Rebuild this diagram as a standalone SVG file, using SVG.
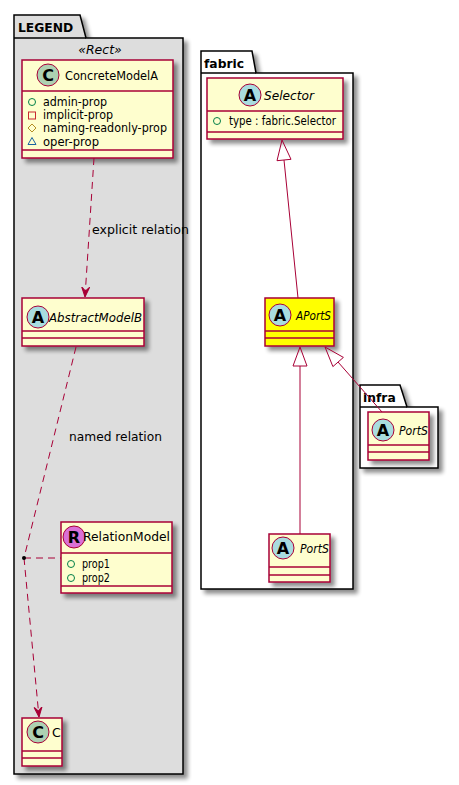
<svg xmlns="http://www.w3.org/2000/svg" width="459" height="785" viewBox="0 0 459 785">
<defs>
<filter id="sh" x="-20%" y="-20%" width="150%" height="150%">
<feGaussianBlur in="SourceAlpha" stdDeviation="2"/>
<feOffset dx="4" dy="4" result="o"/>
<feComponentTransfer><feFuncA type="linear" slope="0.45"/></feComponentTransfer>
<feMerge><feMergeNode/><feMergeNode in="SourceGraphic"/></feMerge>
</filter>
<marker id="ah" viewBox="0 0 10 10" refX="10" refY="5" markerWidth="10" markerHeight="10" markerUnits="userSpaceOnUse" orient="auto">
<path d="M10,5 L0,1 L4,5 L0,9 Z" fill="#A80036" stroke="#A80036" stroke-width="1"/>
</marker>
</defs>
<style>
.pkg{stroke:#000;stroke-width:1.5}
.box{fill:#FEFECE;stroke:#A80036;stroke-width:1.5}
.sep{stroke:#A80036;stroke-width:1.5}
.ci{stroke:#A80036;stroke-width:1}
.lt{font-family:"DejaVu Sans",sans-serif;font-weight:bold;font-size:16px;text-anchor:middle}
.nm{font-family:"DejaVu Sans",sans-serif;font-size:12.5px;fill:#000}
.it{font-style:italic}
.at{font-family:"DejaVu Sans",sans-serif;font-size:11.5px;fill:#000}
.lb{font-family:"DejaVu Sans",sans-serif;font-size:12.5px;fill:#000}
.pt{font-family:"DejaVu Sans",sans-serif;font-size:12.3px;font-weight:bold;fill:#000}
.rel{fill:none;stroke:#A80036;stroke-width:1}
.dash{stroke-dasharray:7,5}
</style>

<g id="pkg-legend">
<path class="pkg" d="M14,15 L80,15 L86,38 L183,38 L183,774 L14,774 Z" fill="#DDDDDD" filter="url(#sh)"/>
<line class="pkg" x1="14" y1="38" x2="86" y2="38"/>
<text class="pt" x="18" y="32">LEGEND</text>
<text class="lb it" x="100" y="54" text-anchor="middle" font-size="12">«Rect»</text>
</g>

<g id="pkg-fabric">
<path class="pkg" d="M201,51 L252,51 L256,73 L353,73 L353,589 L201,589 Z" fill="#FFFFFF" filter="url(#sh)"/>
<line class="pkg" x1="201" y1="73" x2="256" y2="73"/>
<text class="pt" x="204" y="68">fabric</text>
</g>

<g id="pkg-infra">
<path class="pkg" d="M360,385 L400,385 L407,407 L438,407 L438,468 L360,468 Z" fill="#FFFFFF" filter="url(#sh)"/>
<line class="pkg" x1="360" y1="407" x2="407" y2="407"/>
<text class="pt" x="363" y="402">infra</text>
</g>

<g id="ConcreteModelA">
<rect class="box" x="22" y="60" width="151" height="98" filter="url(#sh)"/>
<line class="sep" x1="22" y1="91" x2="173" y2="91"/>
<line class="sep" x1="22" y1="150" x2="173" y2="150"/>
<circle class="ci" cx="48" cy="75" r="11" fill="#ADD1B2"/>
<text class="lt" x="48" y="81">C</text>
<text class="nm" x="65" y="80" textLength="93" lengthAdjust="spacingAndGlyphs">ConcreteModelA</text>
<circle cx="32" cy="102" r="3.5" fill="none" stroke="#038048" stroke-width="1"/>
<text class="at" x="43" y="106" textLength="64" lengthAdjust="spacingAndGlyphs">admin-prop</text>
<rect x="28.5" y="112" width="7" height="7" fill="none" stroke="#C82930" stroke-width="1"/>
<text class="at" x="43" y="119" textLength="70" lengthAdjust="spacingAndGlyphs">implicit-prop</text>
<path d="M32,124 L36,128 L32,132 L28,128 Z" fill="none" stroke="#B38D22" stroke-width="1"/>
<text class="at" x="43" y="132" textLength="124" lengthAdjust="spacingAndGlyphs">naming-readonly-prop</text>
<path d="M32,137.5 L36,144.5 L28,144.5 Z" fill="none" stroke="#1963A0" stroke-width="1"/>
<text class="at" x="43" y="146" textLength="56" lengthAdjust="spacingAndGlyphs">oper-prop</text>
</g>

<g id="AbstractModelB">
<rect class="box" x="22" y="298" width="122" height="48" filter="url(#sh)"/>
<line class="sep" x1="22" y1="331" x2="144" y2="331"/>
<line class="sep" x1="22" y1="338" x2="144" y2="338"/>
<circle class="ci" cx="38" cy="317" r="11" fill="#A9DCDF"/>
<text class="lt" x="38" y="323">A</text>
<text class="nm it" x="49" y="322" textLength="93" lengthAdjust="spacingAndGlyphs">AbstractModelB</text>
</g>

<g id="RelationModel">
<rect class="box" x="61" y="522" width="111" height="71" filter="url(#sh)"/>
<line class="sep" x1="61" y1="553" x2="172" y2="553"/>
<line class="sep" x1="61" y1="586" x2="172" y2="586"/>
<circle class="ci" cx="74" cy="537" r="11" fill="#DA70D6"/>
<text class="lt" x="74" y="543">R</text>
<text class="nm" x="83" y="541" textLength="87" lengthAdjust="spacingAndGlyphs">RelationModel</text>
<circle cx="71" cy="564" r="3.5" fill="none" stroke="#038048" stroke-width="1"/>
<text class="at" x="82" y="568" textLength="28" lengthAdjust="spacingAndGlyphs">prop1</text>
<circle cx="71" cy="578" r="3.5" fill="none" stroke="#038048" stroke-width="1"/>
<text class="at" x="82" y="582" textLength="28" lengthAdjust="spacingAndGlyphs">prop2</text>
</g>

<g id="C">
<rect class="box" x="22" y="718" width="40" height="48" filter="url(#sh)"/>
<line class="sep" x1="22" y1="751" x2="62" y2="751"/>
<line class="sep" x1="22" y1="758" x2="62" y2="758"/>
<circle class="ci" cx="38" cy="732" r="11" fill="#ADD1B2"/>
<text class="lt" x="38" y="738">C</text>
<text class="nm" x="52" y="737">C</text>
</g>

<g id="Selector">
<rect class="box" x="207" y="78" width="136" height="61" filter="url(#sh)"/>
<line class="sep" x1="207" y1="111" x2="343" y2="111"/>
<line class="sep" x1="207" y1="132" x2="343" y2="132"/>
<circle class="ci" cx="250" cy="95" r="11" fill="#A9DCDF"/>
<text class="lt" x="250" y="101">A</text>
<text class="nm it" x="264" y="100" textLength="50" lengthAdjust="spacingAndGlyphs">Selector</text>
<circle cx="217" cy="121" r="3.5" fill="none" stroke="#038048" stroke-width="1"/>
<text class="at" x="229" y="125" textLength="107" lengthAdjust="spacingAndGlyphs">type : fabric.Selector</text>
</g>

<g id="APortS">
<rect x="265" y="298" width="69" height="48" fill="#FFFF00" stroke="#A80036" stroke-width="1.5" filter="url(#sh)"/>
<line class="sep" x1="265" y1="331" x2="334" y2="331"/>
<line class="sep" x1="265" y1="338" x2="334" y2="338"/>
<circle class="ci" cx="280" cy="315" r="11" fill="#A9DCDF"/>
<text class="lt" x="280" y="321">A</text>
<text class="nm it" x="296" y="320" textLength="35" lengthAdjust="spacingAndGlyphs">APortS</text>
</g>

<g id="infra-PortS">
<rect class="box" x="368" y="412" width="61" height="48" filter="url(#sh)"/>
<line class="sep" x1="368" y1="445" x2="429" y2="445"/>
<line class="sep" x1="368" y1="452" x2="429" y2="452"/>
<circle class="ci" cx="383" cy="430" r="11" fill="#A9DCDF"/>
<text class="lt" x="383" y="436">A</text>
<text class="nm it" x="399" y="435" textLength="29" lengthAdjust="spacingAndGlyphs">PortS</text>
</g>

<g id="fabric-PortS">
<rect class="box" x="269" y="534" width="61" height="48" filter="url(#sh)"/>
<line class="sep" x1="269" y1="567" x2="330" y2="567"/>
<line class="sep" x1="269" y1="575" x2="330" y2="575"/>
<circle class="ci" cx="283" cy="548" r="11" fill="#A9DCDF"/>
<text class="lt" x="283" y="554">A</text>
<text class="nm it" x="300" y="553" textLength="29" lengthAdjust="spacingAndGlyphs">PortS</text>
</g>

<g id="connectors">
<path class="rel dash" d="M94,158 L85,297" marker-end="url(#ah)"/>
<text class="lb" x="92" y="234" textLength="97" lengthAdjust="spacingAndGlyphs">explicit relation</text>
<path class="rel dash" d="M76,347 L24,558"/>
<path class="rel dash" d="M24,558 L39,717" marker-end="url(#ah)"/>
<text class="lb" x="69" y="441" textLength="93" lengthAdjust="spacingAndGlyphs">named relation</text>
<path class="rel dash" d="M24,558 L61,558"/>
<circle cx="24" cy="558" r="2" fill="#000"/>
<line class="rel" x1="298" y1="298" x2="284" y2="160"/>
<path d="M282,140 L291,159.3 L277,160.7 Z" fill="none" stroke="#A80036" stroke-width="1"/>
<line class="rel" x1="300" y1="534" x2="300" y2="366"/>
<path d="M300,347 L307,366 L293,366 Z" fill="none" stroke="#A80036" stroke-width="1"/>
<line class="rel" x1="382" y1="412" x2="338" y2="362"/>
<path d="M325,347 L343.4,357.4 L332.9,366.6 Z" fill="none" stroke="#A80036" stroke-width="1"/>
</g>
</svg>
